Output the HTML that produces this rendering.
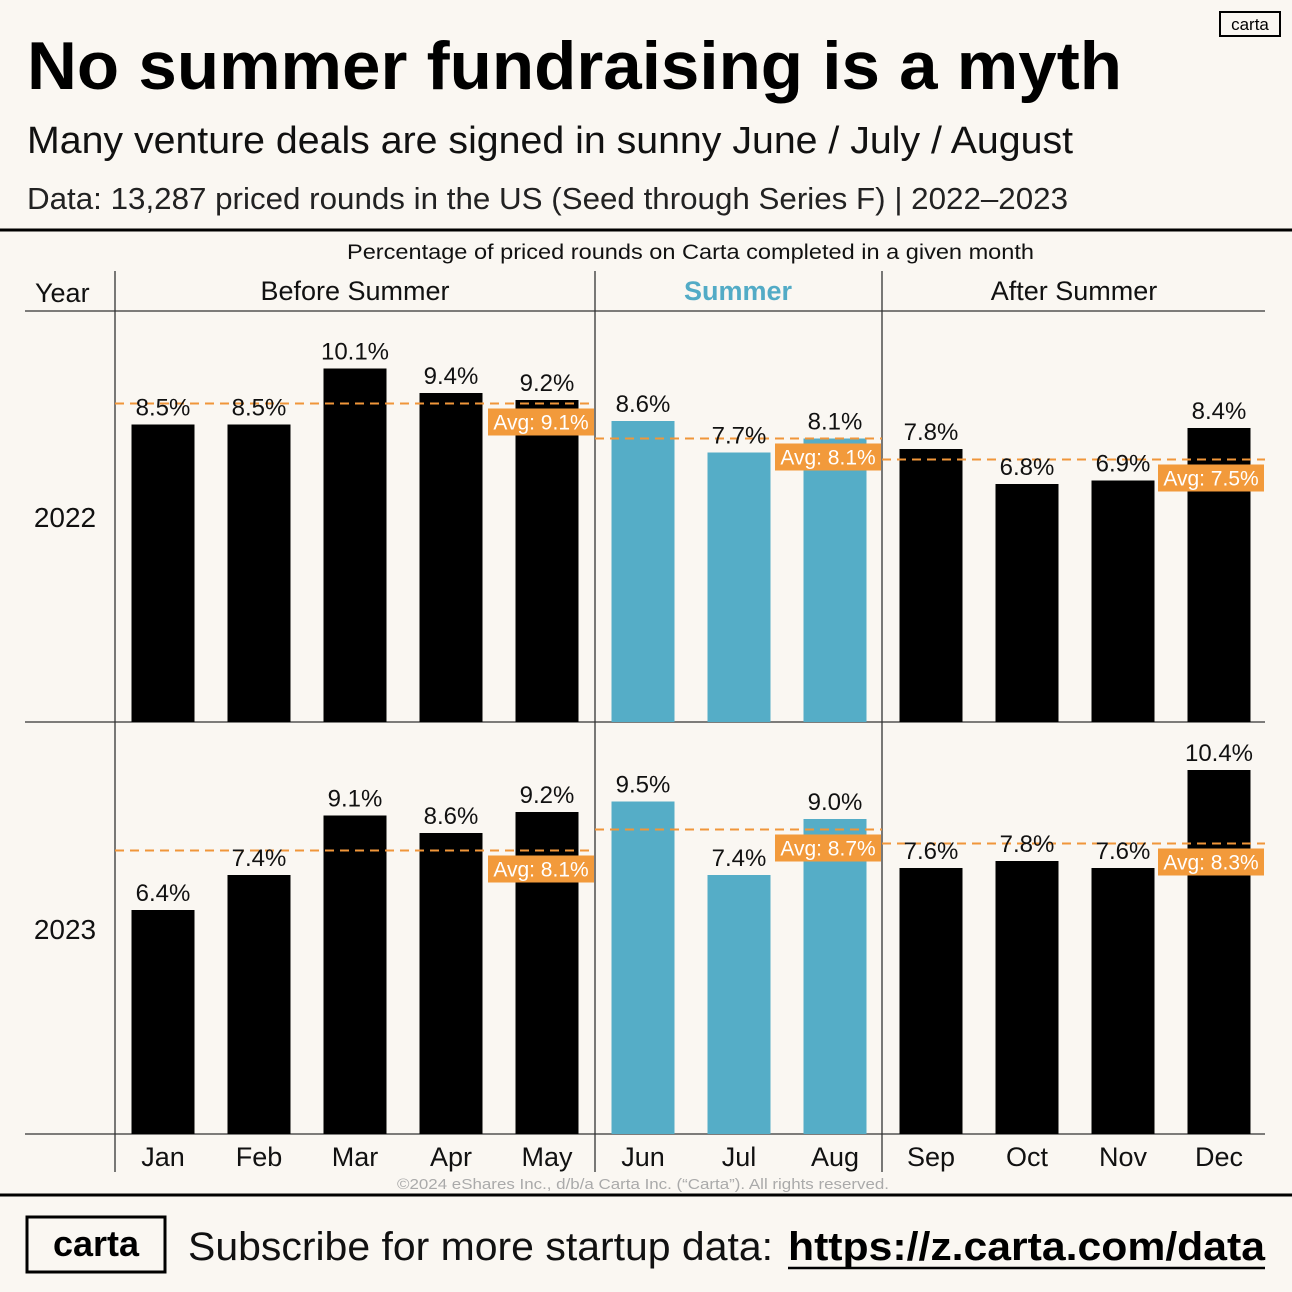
<!DOCTYPE html>
<html><head><meta charset="utf-8"><style>
html,body{margin:0;padding:0;background:#faf7f2}
svg{display:block;font-family:"Liberation Sans",sans-serif}
</style></head><body>
<svg id="chart" width="1292" height="1292" viewBox="0 0 1292 1292" xmlns="http://www.w3.org/2000/svg">
<rect width="1292" height="1292" fill="#faf7f2"/>
<text x="27" y="89" font-size="68" font-weight="bold" textLength="1095" lengthAdjust="spacingAndGlyphs" fill="#000">No summer fundraising is a myth</text>
<text x="27" y="153" font-size="38" textLength="1046" lengthAdjust="spacingAndGlyphs" fill="#111">Many venture deals are signed in sunny June / July / August</text>
<text x="27" y="209" font-size="31" textLength="1041" lengthAdjust="spacingAndGlyphs" fill="#222">Data: 13,287 priced rounds in the US (Seed through Series F)  |  2022–2023</text>
<rect x="1220" y="12" width="60" height="24" fill="none" stroke="#000" stroke-width="2"/>
<text x="1250" y="30" font-size="17" text-anchor="middle">carta</text>
<line x1="0" y1="230" x2="1292" y2="230" stroke="#000" stroke-width="3"/>
<text x="347" y="259" font-size="21" textLength="687" lengthAdjust="spacingAndGlyphs" fill="#111">Percentage of priced rounds on Carta completed in a given month</text>
<text x="35" y="302" font-size="27" fill="#111">Year</text>
<text x="355" y="300" font-size="27" text-anchor="middle" fill="#111">Before Summer</text>
<text x="738" y="300" font-size="27" font-weight="bold" text-anchor="middle" fill="#52abc6">Summer</text>
<text x="1074" y="300" font-size="27" text-anchor="middle" fill="#111">After Summer</text>
<g id="grid"></g>
<g id="marks"></g>
<text x="397" y="1189" font-size="15" textLength="492" lengthAdjust="spacingAndGlyphs" fill="#aaa">©2024 eShares Inc., d/b/a Carta Inc. (“Carta”). All rights reserved.</text>
<line x1="0" y1="1195" x2="1292" y2="1195" stroke="#000" stroke-width="3"/>
<rect x="27" y="1217" width="138" height="55" fill="none" stroke="#000" stroke-width="3"/>
<text x="96" y="1256" font-size="36" font-weight="bold" text-anchor="middle">carta</text>
<text x="188" y="1260" font-size="40" textLength="585" lengthAdjust="spacingAndGlyphs" fill="#111">Subscribe for more startup data:</text>
<text x="788" y="1260" font-size="40" font-weight="bold" textLength="477" lengthAdjust="spacingAndGlyphs" fill="#000">https://z.carta.com/data</text>
<line x1="788" y1="1268" x2="1265" y2="1268" stroke="#000" stroke-width="2.5"/>
</svg>
<script>
const months = ["Jan","Feb","Mar","Apr","May","Jun","Jul","Aug","Sep","Oct","Nov","Dec"];
const years = ["2022","2023"];
const values2022 = [8.5,8.5,10.1,9.4,9.2,8.6,7.7,8.1,7.8,6.8,6.9,8.4];
const values2023 = [6.4,7.4,9.1,8.6,9.2,9.5,7.4,9.0,7.6,7.8,7.6,10.4];
const groupNames = ["before","summer","after"];
const groupStart = [0,5,8];
const groupEnd = [4,7,11];
const avg2022 = [9.1,8.1,7.5];
const avg2023 = [8.1,8.7,8.3];

const NS="http://www.w3.org/2000/svg";
const SCALE=35, BW=63;
const baselines=[722,1134];
const gx0=[115,595,882], gx1=[595,882,1265];
function xc(i){return 163+96*i;}
function yv(v,r){return baselines[r]-v*SCALE;}
function mk(tag,attrs,parent){const e=document.createElementNS(NS,tag);for(const k in attrs)e.setAttribute(k,attrs[k]);parent.appendChild(e);return e;}
const grid=document.getElementById('grid'), marks=document.getElementById('marks');
[[25,311,1265,311],[25,722,1265,722],[25,1134,1265,1134],[115,271,115,1172],[595,271,595,1172],[882,271,882,1172]].forEach((l,k)=>{
  const e=mk('line',{x1:l[0],y1:l[1],x2:l[2],y2:l[3],stroke:'#333','stroke-width':1.3},grid);
  
  
});
years.forEach((y,r)=>{
  const t=mk('text',{x:65,y:(r?1134:722)-195,'font-size':28,'text-anchor':'middle',fill:'#111'},grid);
  t.textContent=y;
  
  
});
months.forEach((m,i)=>{
  const t=mk('text',{x:xc(i),y:1166,'font-size':27,'text-anchor':'middle',fill:'#111'},grid);
  t.textContent=m;
  
  
});
[values2022,values2023].forEach((vals,r)=>{
  vals.forEach((v,i)=>{
    const summer=i>=5&&i<=7;
    const b=mk('rect',{x:xc(i)-BW/2,y:yv(v,r),width:BW,height:v*SCALE,fill:summer?'#55adc7':'#000'},marks);
    
    
  });
});
[avg2022,avg2023].forEach((avgs,r)=>{
  avgs.forEach((a,g)=>{
    const y=yv(a,r);
    const l=mk('line',{x1:gx0[g],y1:y,x2:gx1[g],y2:y,stroke:'#f0963a','stroke-width':2,'stroke-dasharray':'9 6'},marks);
    
    
    const bx=mk('rect',{x:gx1[g]-107,y:y+5,width:106,height:27,fill:'#f29a3b'},marks);
    
    
    const t=mk('text',{x:gx1[g]-54,y:y+26,'font-size':21,'text-anchor':'middle',fill:'#fff'},marks);
    t.textContent='Avg: '+a.toFixed(1)+'%';
    
    
  });
});
[values2022,values2023].forEach((vals,r)=>{
  vals.forEach((v,i)=>{
    const t=mk('text',{x:xc(i),y:yv(v,r)-9,'font-size':24,'text-anchor':'middle',fill:'#111'},marks);
    t.textContent=v.toFixed(1)+'%';
    
    
  });
});
</script>
</body></html>
